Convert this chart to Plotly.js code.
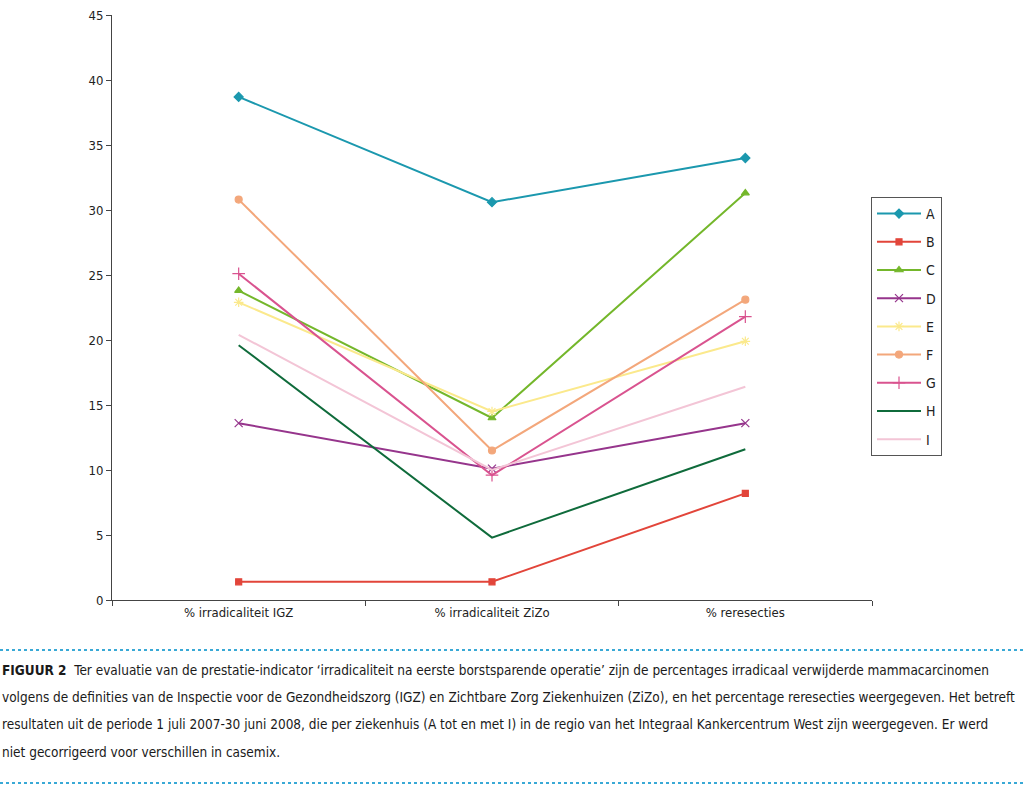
<!DOCTYPE html>
<html>
<head>
<meta charset="utf-8">
<script src="https://cdn.plot.ly/plotly-3.0.1.min.js"></script>
<style>
  html, body { margin: 0; padding: 0; background: #fff; }
  #chart { width: 1024px; height: 788px; }
</style>
</head>
<body>
<div id="chart"></div>
<script>
// Indicator categories on the x axis
const categories = ['% irradicaliteit IGZ', '% irradicaliteit ZiZo', '% reresecties'];

// Percentages per hospital (A t/m I)
const hospitals = ['A', 'B', 'C', 'D', 'E', 'F', 'G', 'H', 'I'];
const valuesA = [38.7, 30.6, 34.0];
const valuesB = [1.4, 1.4, 8.2];
const valuesC = [23.8, 14.0, 31.3];
const valuesD = [13.6, 10.1, 13.6];
const valuesE = [22.9, 14.5, 19.9];
const valuesF = [30.8, 11.5, 23.1];
const valuesG = [25.1, 9.6, 21.8];
const valuesH = [19.6, 4.8, 11.6];
const valuesI = [20.4, 10.0, 16.4];

const yTicks = [0, 5, 10, 15, 20, 25, 30, 35, 40, 45];

const seriesValues = [valuesA, valuesB, valuesC, valuesD, valuesE, valuesF, valuesG, valuesH, valuesI];
const colors = ['#1b98ae', '#e2453a', '#74b72b', '#96358c', '#fbe98c', '#f3a77b', '#d9538f', '#0f6b3b', '#f3c5d6'];
const symbols = ['diamond', 'square', 'triangle-up', 'x-thin-open', 'asterisk-open', 'circle', 'cross-thin-open', null, null];
const sizes = [7, 6, 7, 8, 8, 7, 9, 0, 0];

const FONT = '"DejaVu Sans Condensed", "Liberation Sans Narrow", "Open Sans", sans-serif';

const traces = hospitals.map((name, i) => {
  const t = {
    type: 'scatter',
    x: categories,
    y: seriesValues[i],
    name: name,
    legendgroup: name,
    line: { color: colors[i], width: 2 },
    mode: symbols[i] ? 'lines+markers' : 'lines'
  };
  if (symbols[i]) {
    t.marker = { symbol: symbols[i], size: sizes[i], color: colors[i], line: { color: colors[i], width: 1.2 } };
  }
  return t;
});

// Pixel helpers for annotations/shapes below the plot area
const L = 112, R = 872, T = 15, B = 600;
const px = x => (x - L) / (R - L);
const py = y => (B - y) / (B - T);

const captionLines = [
  '<b>FIGUUR 2</b>  Ter evaluatie van de prestatie-indicator ‘irradicaliteit na eerste borstsparende operatie’ zijn de percentages irradicaal verwijderde mammacarcinomen',
  'volgens de definities van de Inspectie voor de Gezondheidszorg (IGZ) en Zichtbare Zorg Ziekenhuizen (ZiZo), en het percentage reresecties weergegeven. Het betreft',
  'resultaten uit de periode 1 juli 2007-30 juni 2008, die per ziekenhuis (A tot en met I) in de regio van het Integraal Kankercentrum West zijn weergegeven. Er werd',
  'niet gecorrigeerd voor verschillen in casemix.'
];
const captionY = [670, 697, 724, 752];

const annotations = captionLines.map((txt, i) => ({
  xref: 'paper', yref: 'paper',
  x: px(0), y: py(captionY[i]),
  xanchor: 'left', yanchor: 'middle',
  showarrow: false,
  align: 'left',
  text: txt,
  font: { family: FONT, size: 13.5, color: '#1a1a1a' }
}));

const dotted = y => ({
  type: 'line', xref: 'paper', yref: 'paper',
  x0: px(0), x1: px(1024), y0: py(y), y1: py(y),
  line: { color: '#39a9d6', width: 2, dash: 'dot' }
});

const layout = {
  width: 1024, height: 788,
  margin: { l: L, r: 1024 - R, t: T, b: 788 - B },
  paper_bgcolor: '#fff', plot_bgcolor: '#fff',
  font: { family: FONT, size: 13, color: '#222' },
  showlegend: true,
  legend: {
    x: px(871), y: py(197), xanchor: 'left', yanchor: 'top',
    bordercolor: '#555', borderwidth: 1,
    font: { family: FONT, size: 14, color: '#222' },
    tracegroupgap: 7,
    itemwidth: 44
  },
  xaxis: {
    type: 'category',
    range: [-0.5, 2.5],
    showline: true, linecolor: '#444', linewidth: 1,
    ticks: 'outside', ticklen: 5, tickcolor: '#444',
    tickson: 'boundaries',
    showgrid: false, zeroline: false,
    tickfont: { family: FONT, size: 13, color: '#222' },
    fixedrange: true
  },
  yaxis: {
    range: [0, 45],
    tickvals: yTicks,
    ticktext: yTicks.map(String),
    showline: true, linecolor: '#444', linewidth: 1,
    ticks: 'outside', ticklen: 5, tickcolor: '#444',
    showgrid: false, zeroline: false,
    tickfont: { family: FONT, size: 13, color: '#222' },
    fixedrange: true
  },
  shapes: [dotted(650), dotted(783)],
  annotations: annotations
};

Plotly.newPlot('chart', traces, layout, { displayModeBar: false, staticPlot: true });
</script>
</body>
</html>
